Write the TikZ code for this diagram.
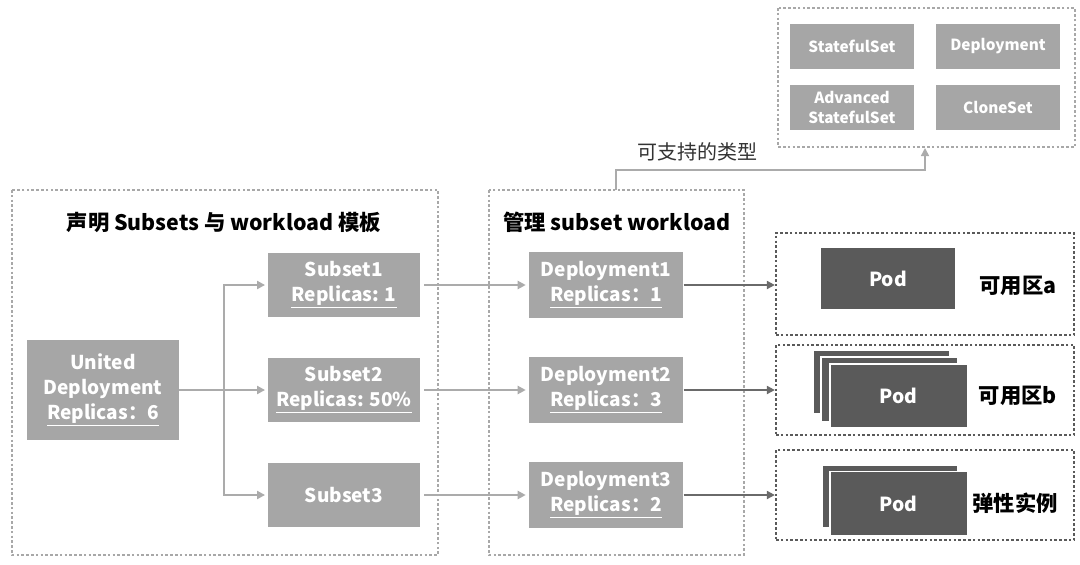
\documentclass[tikz,border=0pt]{standalone}
\usepackage{fontspec}
\setmainfont{Noto Sans CJK SC}
\usetikzlibrary{arrows.meta}

\definecolor{boxgray}{HTML}{A6A6A6}
\definecolor{podgray}{HTML}{5A5A5A}
\definecolor{dotgray}{HTML}{A8A8A8}
\definecolor{dotdark}{HTML}{5A5A5A}
\definecolor{linkgray}{HTML}{ABABAB}
\definecolor{linkdark}{HTML}{6A6A6A}

\begin{document}
\begin{tikzpicture}[x=0.75pt, y=-0.75pt,
    item/.style={fill=boxgray, text=white, align=center, inner sep=0pt,
      font=\fontsize{14.3}{18.5}\selectfont\bfseries},
    kind/.style={fill=boxgray, text=white, align=center, inner sep=0pt,
      minimum width=93pt, minimum height=34pt,
      font=\fontsize{11.5}{14.5}\selectfont\bfseries},
    pod/.style={fill=podgray, draw=white, line width=1pt, text=white,
      inner sep=0pt, font=\fontsize{14.5}{17}\selectfont\bfseries},
    frame/.style={draw=dotgray, line width=1.5pt, dash pattern=on 2pt off 1.6pt},
    zone/.style={draw=dotdark, line width=1.7pt, dash pattern=on 2pt off 1.6pt,
      minimum width=223.5pt, inner sep=0pt},
    title/.style={font=\fontsize{16}{20}\selectfont\bfseries},
    link/.style={draw=linkgray, line width=1.5pt, -{Triangle[width=6pt,length=6pt]}},
    linkdark/.style={draw=linkdark, line width=1.5pt, -{Triangle[width=6pt,length=6pt]}}]
  \useasboundingbox (0,0) rectangle (1080,564);

  % supported workload types
  \draw[frame] (778,8) rectangle (1075,147);
  \node[kind] (sts) at (852,46.5) {StatefulSet};
  \node[kind] (dep) at (998,46.5) {Deployment};
  \node[kind] (asts) at (852,107.5) {Advanced\\StatefulSet};
  \node[kind] (cls) at (998,107.5) {CloneSet};

  % left: subsets and template
  \draw[frame] (12,190) rectangle (438,555);
  \node[title] (lt) at (224,222) {声明 Subsets 与 workload 模板};
  \node[item, minimum width=114pt, minimum height=75pt] (ud) at (103,390)
    {United\\Deployment\\\underline{Replicas：6}};
  \node[item, minimum width=114pt, minimum height=48pt] (s1) at (344,285)
    {Subset1\\\underline{Replicas: 1}};
  \node[item, minimum width=114pt, minimum height=48pt] (s2) at (344,390)
    {Subset2\\\underline{Replicas: 50\%}};
  \node[item, minimum width=114pt, minimum height=48pt] (s3) at (344,495)
    {Subset3};

  % middle: subset workloads
  \draw[frame] (489,190) rectangle (744,555);
  \node[title] (mt) at (617,222) {管理 subset workload};
  \node[item, minimum width=116pt, minimum height=49.5pt] (d1) at (606,285)
    {Deployment1\\\underline{Replicas：1}};
  \node[item, minimum width=116pt, minimum height=49.5pt] (d2) at (606,390)
    {Deployment2\\\underline{Replicas：3}};
  \node[item, minimum width=116pt, minimum height=49.5pt] (d3) at (606,495)
    {Deployment3\\\underline{Replicas：2}};

  % right: zones
  \node[zone, minimum height=76.5pt] (za) at (925,284) {};
  \node[zone, minimum height=67.5pt] (zb) at (925,390) {};
  \node[zone, minimum height=67.5pt] (zc) at (925,495) {};

  \node[pod, minimum width=102pt, minimum height=47pt] (pa) at (888,278.5) {Pod};
  \draw[pod] (813,350) rectangle (950,414);
  \draw[pod] (821,357) rectangle (958,422);
  \node[pod, minimum width=103pt, minimum height=48pt] (pb) at (898.5,396) {Pod};
  \draw[pod] (822,465) rectangle (958,528);
  \node[pod, minimum width=103pt, minimum height=48pt] (pc) at (898.5,503.5) {Pod};

  \node[title] (la) at (1018,286) {可用区a};
  \node[title] (lb) at (1018,396) {可用区b};
  \node[title] (lc) at (1015,503) {弹性实例};

  % connectors
  \coordinate (fork) at (224,390);
  \draw[link, shorten >=2pt] (ud.east) -- (s2.west);
  \draw[link, shorten >=2pt] (fork) |- (s1.west);
  \draw[link, shorten >=2pt] (fork) |- (s3.west);
  \foreach \i in {1,2,3} {
    \draw[link, shorten <=3pt, shorten >=2pt] (s\i.east) -- (d\i.west);
  }
  \draw[linkdark] (d1.east) -- (d1.east -| za.west);
  \draw[linkdark] (d2.east) -- (d2.east -| zb.west);
  \draw[linkdark] (d3.east) -- (d3.east -| zc.west);

  \coordinate (mtop) at (616,190);
  \coordinate (ttop) at (925,148);
  \draw[link, line width=1.2pt] (mtop) -- ++(0,-20) -| (ttop);
  \node[font=\fontsize{15}{18}\selectfont, text=black!80] (tl) at (697,152) {可支持的类型};
\end{tikzpicture}
\end{document}
